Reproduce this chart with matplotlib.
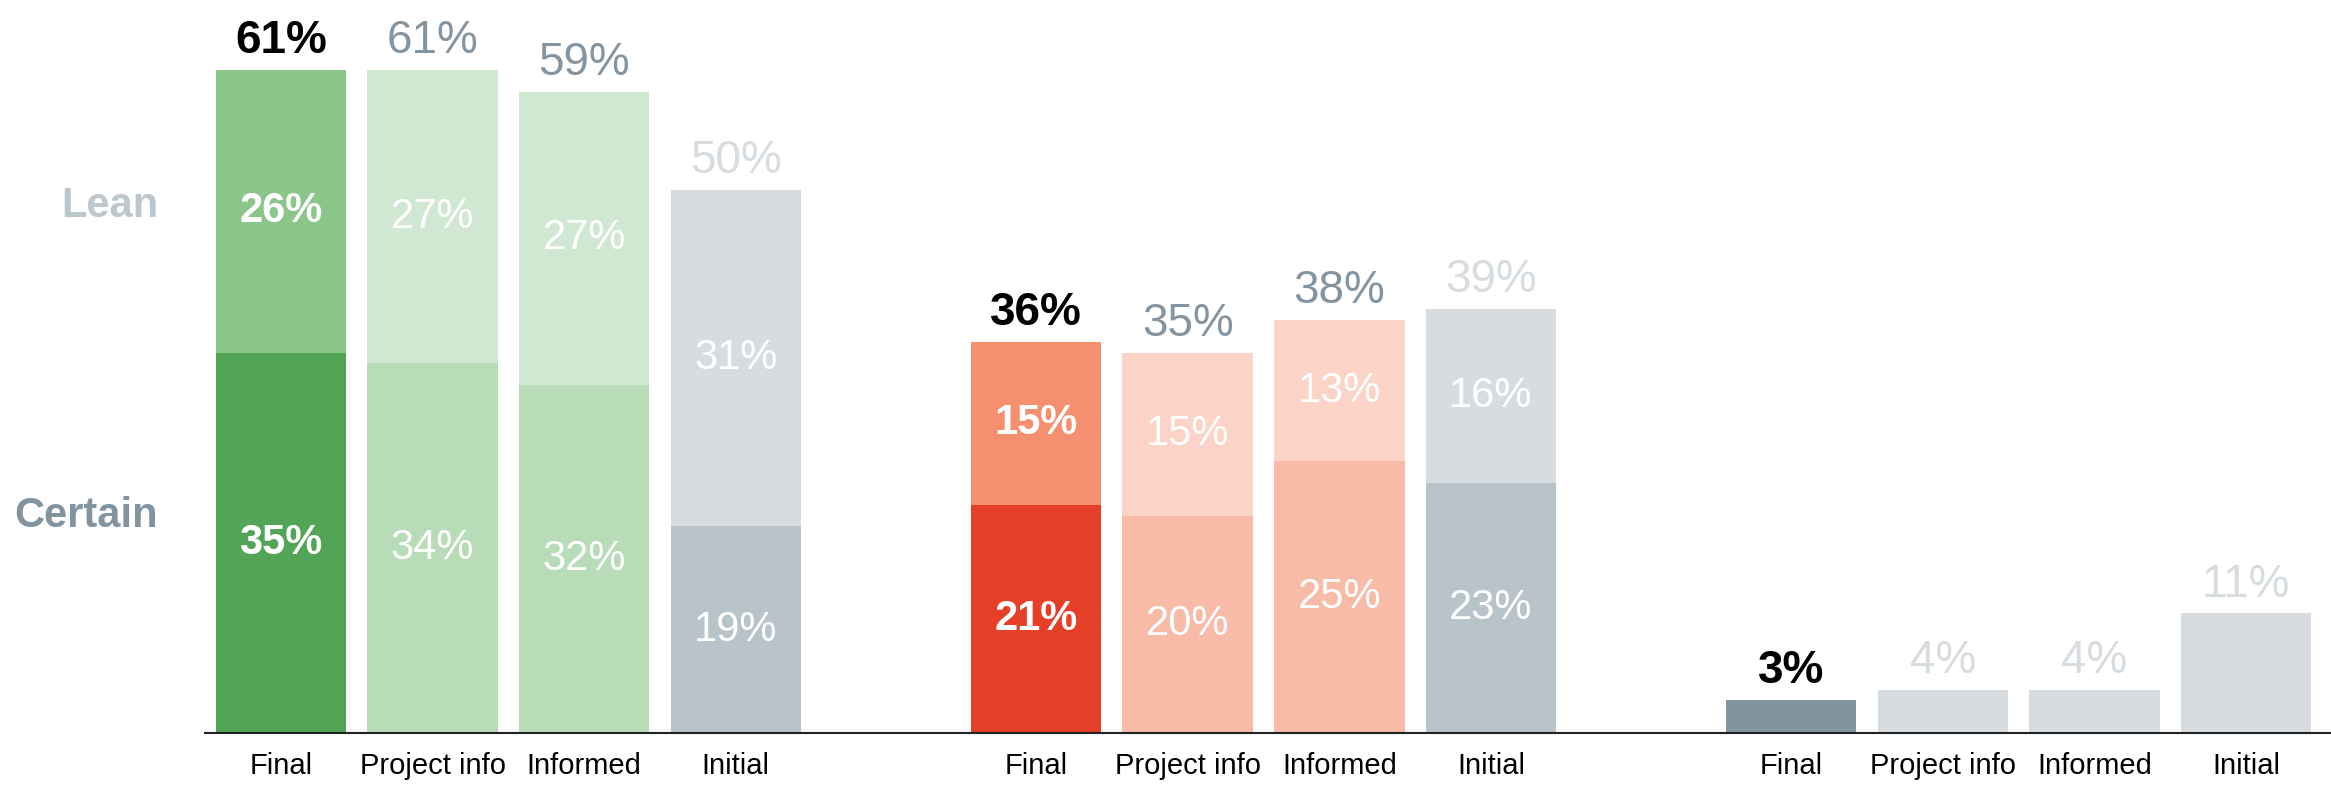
import numpy as np
import matplotlib
matplotlib.use("Agg")
import matplotlib.pyplot as plt
from matplotlib.transforms import blended_transform_factory

plt.rcParams['font.family'] = ['Liberation Sans', 'DejaVu Sans']

stages = ["Final", "Project info", "Informed", "Initial"]

# group 1 (green) and group 2 (red): certain + lean
g1_certain = [35, 34, 32, 19]
g1_lean = [26, 27, 27, 31]
g1_total = [61, 61, 59, 50]

g2_certain = [21, 20, 25, 23]
g2_lean = [15, 15, 13, 16]
g2_total = [36, 35, 38, 39]

# group 3: single value
g3_total = [3, 4, 4, 11]

g1_certain_col = ["#52a457", "#b8dcb8", "#b8dcb8", "#b9c3ca"]
g1_lean_col = ["#8bc58a", "#d0e8d2", "#d0e8d2", "#d7dce0"]
g2_certain_col = ["#e63f28", "#f8bba8", "#f8bba8", "#b9c3ca"]
g2_lean_col = ["#f4906f", "#fbd3c7", "#fbd3c7", "#d7dce0"]
g3_col = ["#8394a1", "#d7dce0", "#d7dce0", "#d7dce0"]
total_col = ["#000000", "#8494a1", "#8494a1", "#d7dce0"]
g3_total_col = ["#000000", "#d7dce0", "#d7dce0", "#d7dce0"]

group_step = 4.98
x1 = np.arange(4)
x2 = x1 + group_step
x3 = x1 + 2 * group_step
width = 0.86

fig = plt.figure(figsize=(23.31, 7.87), dpi=100)
ax = fig.add_axes([0.088, 0.0686, 0.912, 0.8977])

for x, cert, lean, ccol, lcol in [(x1, g1_certain, g1_lean, g1_certain_col, g1_lean_col),
                                  (x2, g2_certain, g2_lean, g2_certain_col, g2_lean_col)]:
    ax.bar(x, cert, width, color=ccol, linewidth=0)
    ax.bar(x, lean, width, bottom=cert, color=lcol, linewidth=0)
    for i in range(4):
        w = 'bold' if i == 0 else 'normal'
        ax.text(x[i], cert[i] / 2, f"{cert[i]}%", ha='center', va='center',
                color='white', fontsize=30, fontweight=w)
        ax.text(x[i], cert[i] + lean[i] / 2, f"{lean[i]}%", ha='center', va='center',
                color='white', fontsize=30, fontweight=w)

ax.bar(x3, g3_total, width, color=g3_col, linewidth=0)

for x, tot, cols in [(x1, g1_total, total_col), (x2, g2_total, total_col), (x3, g3_total, g3_total_col)]:
    for i in range(4):
        w = 'bold' if i == 0 else 'normal'
        ax.annotate(f"{tot[i]}%", (x[i], tot[i]), xytext=(0, 5), textcoords='offset points',
                    ha='center', va='bottom', color=cols[i], fontsize=33, fontweight=w,
                    annotation_clip=False)

trans = blended_transform_factory(fig.transFigure, ax.transData)
ax.text(0.0678, 48.5, "Lean", transform=trans, ha='right', va='center',
        color="#bcc6cd", fontsize=30, fontweight='bold')
ax.text(0.0678, 20.0, "Certain", transform=trans, ha='right', va='center',
        color="#8394a1", fontsize=30, fontweight='bold')

ax.set_xlim(-0.5, 13.52)
ax.set_ylim(0, 65)
ax.set_xticks(np.concatenate([x1, x2, x3]), stages * 3)
ax.tick_params(axis='x', length=0, pad=14, labelsize=21)
ax.set_yticks([])
for s in ['top', 'right', 'left']:
    ax.spines[s].set_visible(False)
ax.spines['bottom'].set_linewidth(1.5)
ax.spines['bottom'].set_color('#222222')

fig.savefig("out.png", dpi=100)
